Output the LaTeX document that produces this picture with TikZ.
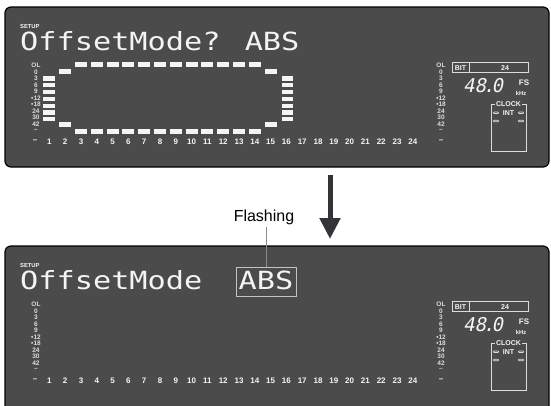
\documentclass[tikz,border=0pt]{standalone}
\usepackage{fontspec}
\setmainfont{Liberation Sans}
\newfontfamily\lcdfont[FakeStretch=1.21]{DejaVu Sans Mono}
\newfontfamily\lcdslant[FakeSlant=0.2]{DejaVu Sans Mono}
\usetikzlibrary{arrows.meta}
\definecolor{panelgray}{HTML}{4B4B4B}
\definecolor{lcdwhite}{HTML}{F4F4F4}
\definecolor{leadgray}{HTML}{8C8C8C}
\definecolor{arrowgray}{HTML}{333338}

\begin{document}
\begin{tikzpicture}[x=1pt, y=-1pt,
  panel/.style={fill=panelgray, draw=black, line width=1.2pt, rounded corners=6pt},
  seg/.style={fill=lcdwhite},
  scalelbl/.style={text=lcdwhite!90!black, font=\bfseries\fontsize{6.5}{6.5}\selectfont, inner sep=0pt},
  chlbl/.style={text=lcdwhite, font=\bfseries\fontsize{8}{8}\selectfont, inner sep=0pt},
  infolbl/.style={text=lcdwhite, font=\bfseries\fontsize{7}{7}\selectfont, inner sep=0.6pt},
  setuplbl/.style={text=lcdwhite, font=\bfseries\fontsize{5.8}{5.8}\selectfont, inner sep=0pt, anchor=base west},
  lcd/.style={text=lcdwhite, font=\lcdfont\fontsize{25}{25}\selectfont, inner sep=0pt, anchor=base west},
  boxline/.style={draw=lcdwhite!90!black, line width=0.9pt},
  absframe/.style={draw=lcdwhite!80!black, line width=1.2pt, minimum width=60pt, minimum height=29.4pt, inner sep=0pt}]

  \useasboundingbox (0,0) rectangle (551,405);

  % the two display panels
  \path[panel] (5,7) rectangle (549,167);
  \path[panel] (5,406) -- (5,246) -- (549,246) -- (549,406);

  % level bars left and right
  \foreach \i in {0,...,6} {
    \fill[seg] (43,76.3+6.8*\i) rectangle +(12,4.3);
    \fill[seg] (282,76.3+6.8*\i) rectangle +(11,4.3);
  }

  % dashed frame of the top panel
  \foreach \k in {3,...,14} {
    \fill[seg] ({81+15.8*(\k-3)-6},62) rectangle +(12,5);
    \fill[seg] ({81+15.8*(\k-3)-6},129) rectangle +(12,5);
  }
  \foreach \k in {2,15} {
    \fill[seg] ({81+15.8*(\k-3)-6},69) rectangle +(12,5);
    \fill[seg] ({81+15.8*(\k-3)-6},122) rectangle +(12,5);
  }

  % shared labels of both panels
  \foreach \oy [count=\p] in {0,239} {
    \node[setuplbl] (setup\p) at (20,28.5+\oy) {SETUP};
    \foreach \t [count=\j] in {OL,0,3,6,9,•12,•18,24,30,42,–} {
      \node[scalelbl] (lsc\p-\j) at (36,{65.3+6.55*(\j-1)+\oy}) {\t};
      \node[scalelbl] (rsc\p-\j) at (441,{65.3+6.55*(\j-1)+\oy}) {\t};
    }
    \node[chlbl] (ldash\p) at (35,141.7+\oy) {–};
    \node[chlbl] (rdash\p) at (441,141.7+\oy) {–};
    \foreach \k in {1,...,24}
      \node[chlbl] (ch\p-\k) at ({81+15.8*(\k-3)},141.7+\oy) {\k};

    % bit / fs / clock block
    \draw[boxline] (452,62.7+\oy) rectangle (528,72.7+\oy);
    \draw[boxline] (469,62.7+\oy) -- (469,72.7+\oy);
    \node[infolbl] (bit\p) at (460.5,67.9+\oy) {BIT};
    \node[infolbl] (bits\p) at (505,67.9+\oy) {24};
    \node[text=lcdwhite, font=\lcdslant\fontsize{19}{19}\selectfont, inner sep=0pt, anchor=base west]
      (fs\p) at (463,92+\oy) {48\kern-3pt.\kern-3pt0};
    \node[chlbl] (fsu\p) at (524,83+\oy) {FS};
    \node[setuplbl, anchor=center] (khz\p) at (521,93.5+\oy) {kHz};
    \draw[boxline] (491,104+\oy) rectangle (526,151+\oy);
    \node[infolbl, fill=panelgray] (clock\p) at (508.5,104+\oy) {CLOCK};
    \node[infolbl] (int\p) at (508.5,112.7+\oy) {INT};
    \foreach \dx in {496,521}
      \foreach \dy in {112.7,121}
        \draw[boxline, line width=0.7pt, rounded corners=0.6pt] (\dx-2.5,\dy-0.8+\oy) rectangle (\dx+2.5,\dy+0.8+\oy);
  }

  % messages
  \node[lcd] (msgtop) at (20,50) {OffsetMode? ABS};
  \node[lcd] (msgbot) at (20,289) {OffsetMode};
  \node[lcd] (absbot) at (238.4,289) {ABS};
  \node[absframe] (absbox) at (266.7,282) {};

  % arrow between the panels
  \coordinate (arrtop) at (330,175);
  \coordinate (arrtip) at (330,239);
  \draw[-{Triangle[width=20pt,length=21pt]}, line width=5pt, arrowgray] (arrtop) -- (arrtip);

  % flashing callout
  \node[font=\fontsize{16}{16}\selectfont, inner sep=2pt] (flash) at (264,217) {Flashing};
  \draw[leadgray, line width=1pt] (absbox.north) -- (absbox.north |- flash.south);
\end{tikzpicture}
\end{document}
